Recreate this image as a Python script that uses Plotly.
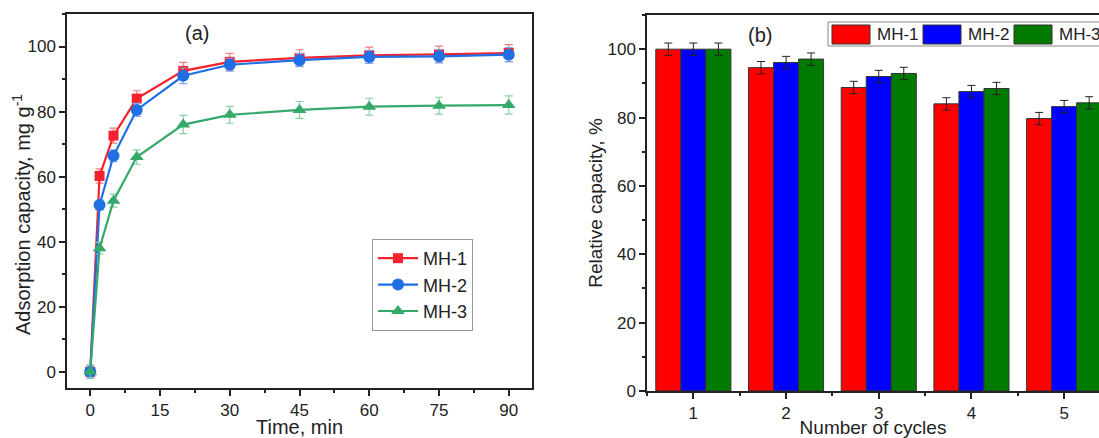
import plotly.graph_objects as go

# ---- Panel (a): adsorption kinetics ----
time_min = [0, 2, 5, 10, 20, 30, 45, 60, 75, 90]
mh1_cap = [0, 60.2, 72.6, 84.0, 92.5, 95.3, 96.5, 97.3, 97.6, 98.0]
mh2_cap = [0, 51.3, 66.4, 80.5, 91.0, 94.4, 95.8, 96.8, 97.0, 97.5]
mh3_cap = [0, 38.0, 52.6, 66.0, 76.0, 79.0, 80.5, 81.5, 81.8, 82.0]
mh1_err = [2.0, 2.2, 2.3, 2.4, 2.6, 2.6, 2.5, 2.5, 2.5, 2.6]
mh2_err = [2.0, 1.5, 1.8, 2.0, 2.4, 2.0, 2.0, 2.0, 2.0, 2.2]
mh3_err = [2.0, 1.8, 2.0, 2.2, 2.8, 2.6, 2.6, 2.6, 2.6, 2.8]

# ---- Panel (b): reusability ----
cycles = [1, 2, 3, 4, 5]
mh1_rel = [100, 94.6, 88.8, 84.0, 79.7]
mh2_rel = [100, 96.1, 92.0, 87.6, 83.2]
mh3_rel = [100, 97.1, 92.9, 88.5, 84.3]
mh1_rel_err = [1.8, 1.8, 1.8, 1.8, 1.8]
mh2_rel_err = [1.8, 1.8, 1.8, 1.8, 1.8]
mh3_rel_err = [1.8, 1.8, 1.8, 1.8, 1.8]

series_names = ["MH-1", "MH-2", "MH-3"]

FONT = "Arial, Liberation Sans, sans-serif"
W, H = 1099, 438

fig = go.Figure()

line_styles = [
    (mh1_cap, mh1_err, "#F5222D", "#F47C7C", "square", 10),
    (mh2_cap, mh2_err, "#1F6FE5", "#7FA8EE", "circle", 12),
    (mh3_cap, mh3_err, "#35A96A", "#8ACFA6", "triangle-up", 12),
]
for name, (vals, errs, col, ecol, sym, sz) in zip(series_names, line_styles):
    fig.add_trace(go.Scatter(
        x=time_min, y=vals, name=name, mode="lines+markers",
        line=dict(color=col, width=2.2),
        marker=dict(symbol=sym, size=sz, color=col),
        error_y=dict(type="data", array=errs, visible=True, color=ecol, thickness=1.2, width=4),
        xaxis="x", yaxis="y",
    ))

bar_colors = ["#FF0000", "#0000FF", "#007A00"]
bar_styles = [(mh1_rel, mh1_rel_err), (mh2_rel, mh2_rel_err), (mh3_rel, mh3_rel_err)]
for name, (vals, errs), col in zip(series_names, bar_styles, bar_colors):
    fig.add_trace(go.Bar(
        x=cycles, y=vals, name=name, showlegend=False,
        marker=dict(color=col, line=dict(color="#333333", width=1)),
        error_y=dict(type="data", array=errs, visible=True, color="#222222", thickness=1, width=4),
        xaxis="x2", yaxis="y2",
    ))

axis_common = dict(
    showline=True, linecolor="#222222", linewidth=1.5,
    ticks="outside", ticklen=6, tickwidth=1.5, tickcolor="#222222",
    showgrid=False, zeroline=False, automargin=False,
    tickfont=dict(family=FONT, size=17, color="#222222"),
)
minor_common = dict(ticklen=3, tickwidth=1.5, tickcolor="#222222", ticks="outside", showgrid=False)

# Custom legend for panel (b): box with wide swatches
shapes = [dict(type="rect", xref="paper", yref="paper",
               x0=828 / W, x1=1110 / W, y0=1 - 46 / H, y1=1 - 22 / H,
               line=dict(color="#888888", width=1), fillcolor="white", layer="above")]
annotations = [
    dict(text="(a)", x=197 / W, y=1 - 33 / H, xref="paper", yref="paper",
         xanchor="center", yanchor="middle",
         showarrow=False, font=dict(family=FONT, size=20)),
    dict(text="(b)", x=760 / W, y=1 - 35 / H, xref="paper", yref="paper",
         xanchor="center", yanchor="middle",
         showarrow=False, font=dict(family=FONT, size=20)),
    # y-axis title of panel (a)
    dict(text="Adsorption capacity, mg g<sup>-1</sup>", x=21 / W, y=1 - 215 / H,
         xref="paper", yref="paper", xanchor="center", yanchor="middle",
         textangle=-90, showarrow=False, font=dict(family=FONT, size=20, color="#222222")),
]
sw_x0 = [832, 923, 1014]
for name, col, x0 in zip(series_names, bar_colors, sw_x0):
    shapes.append(dict(type="rect", xref="paper", yref="paper",
                       x0=x0 / W, x1=(x0 + 38) / W, y0=1 - 44 / H, y1=1 - 25 / H,
                       line=dict(color="#333333", width=1), fillcolor=col, layer="above"))
    annotations.append(dict(text=name, x=(x0 + 43) / W, y=1 - 34.5 / H,
                            xref="paper", yref="paper", xanchor="left", yanchor="middle",
                            showarrow=False, font=dict(family=FONT, size=17, color="#222222")))

fig.update_layout(
    template="none",
    width=W, height=H,
    margin=dict(l=0, r=0, t=0, b=0, autoexpand=False),
    paper_bgcolor="white", plot_bgcolor="white",
    font=dict(family=FONT, color="#222222"),
    barmode="group", bargap=0.19, bargroupgap=0,
    showlegend=True,
    xaxis=dict(
        domain=[67 / W, 532 / W], range=[-5, 95], tick0=0, dtick=15,
        mirror=True, anchor="y",
        minor=dict(dtick=7.5, **minor_common),
        title=dict(text="Time, min", font=dict(family=FONT, size=20), standoff=2),
        **axis_common,
    ),
    yaxis=dict(
        domain=[1 - 388 / H, 1 - 14 / H], range=[-5, 110], tick0=0, dtick=20,
        mirror=True, anchor="x",
        minor=dict(dtick=10, **minor_common),
        **axis_common,
    ),
    xaxis2=dict(
        domain=[647 / W, 1.0], range=[0.5, 0.5 + (W - 647) / 92.7], tick0=1, dtick=1,
        mirror=True, anchor="y2",
        minor=dict(dtick=0.5, **minor_common),
        title=dict(text="Number of cycles", font=dict(family=FONT, size=19), standoff=2),
        **axis_common,
    ),
    yaxis2=dict(
        domain=[1 - 391 / H, 1 - 15 / H], range=[0, 110], tick0=0, dtick=20,
        mirror=False, anchor="x2",
        minor=dict(dtick=10, **minor_common),
        title=dict(text="Relative capacity, %", font=dict(family=FONT, size=19), standoff=0),
        **axis_common,
    ),
    legend=dict(
        x=372 / W, y=1 - 239 / H, xanchor="left", yanchor="top",
        bgcolor="white", bordercolor="#999999", borderwidth=1,
        font=dict(family=FONT, size=18), tracegroupgap=0, itemwidth=40,
    ),
    shapes=shapes,
    annotations=annotations,
)

fig.write_html(
    "out.html",
    config={"displayModeBar": False},
    post_script="document.body.style.margin='0';document.body.style.overflow='hidden';",
)
